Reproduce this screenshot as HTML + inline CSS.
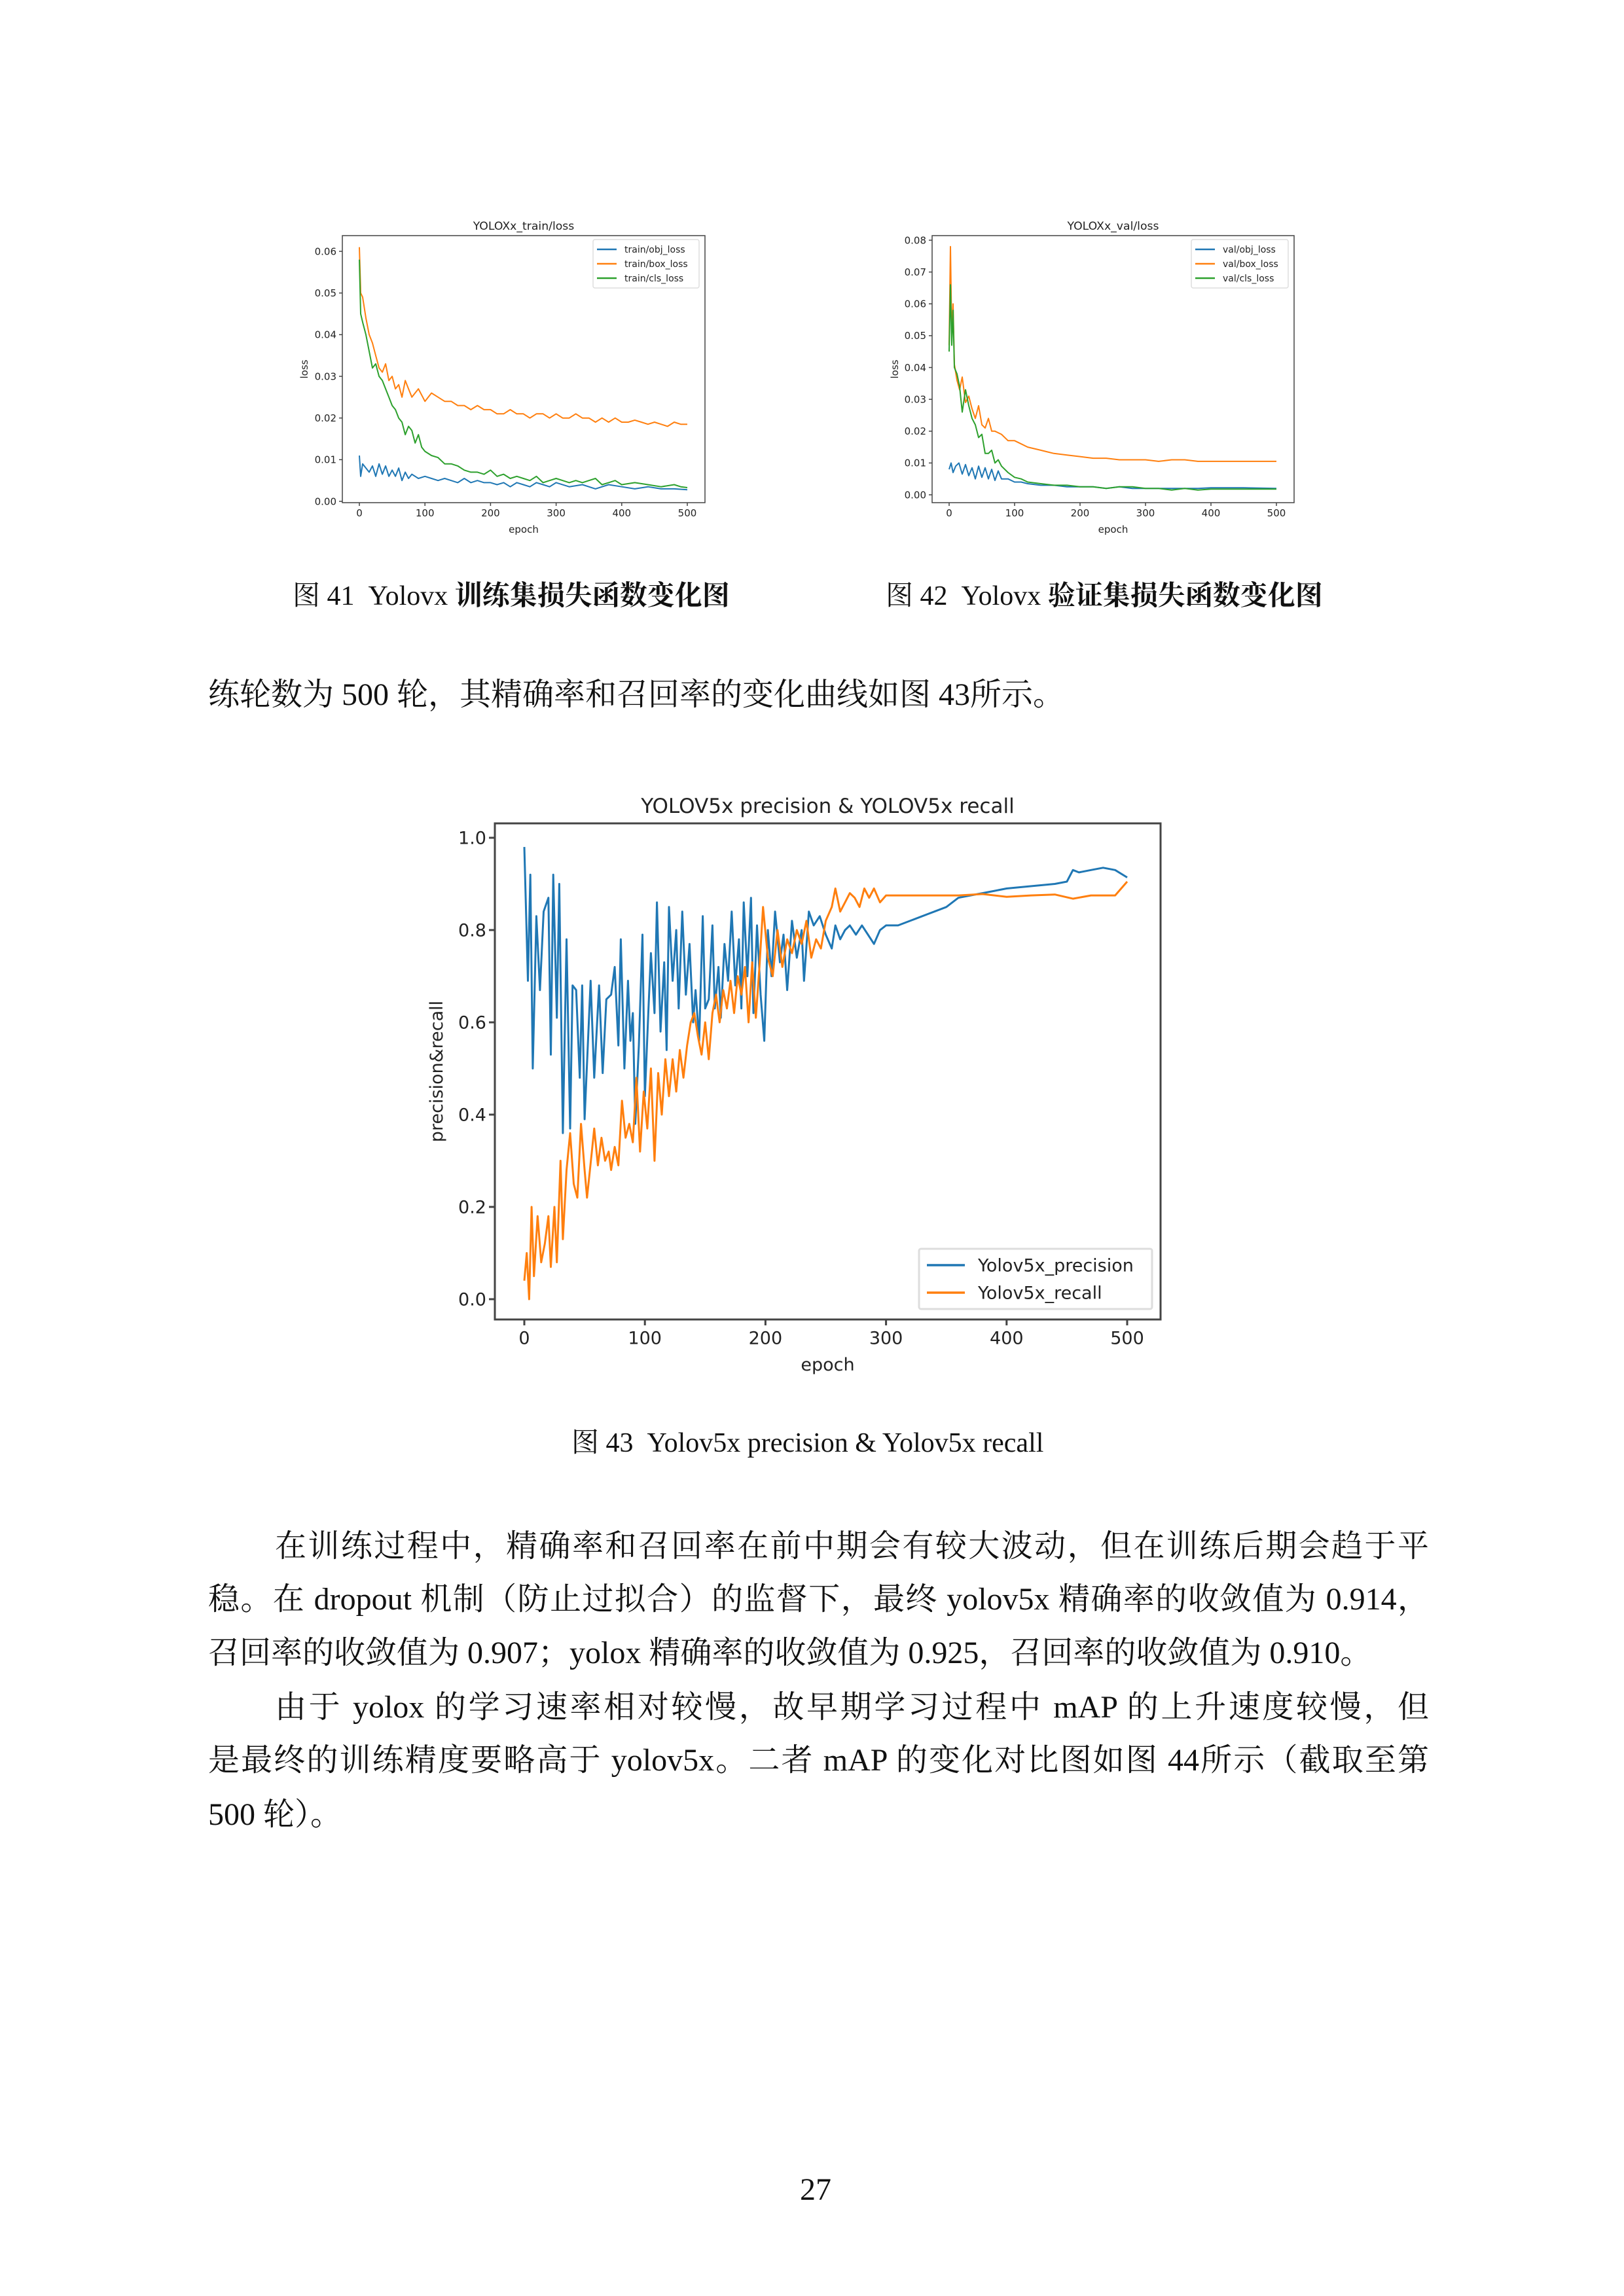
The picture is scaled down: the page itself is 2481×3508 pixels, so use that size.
<!DOCTYPE html>
<html><head><meta charset="utf-8">
<style>
html,body{margin:0;padding:0;background:#fff;}
body{width:2481px;height:3508px;position:relative;overflow:hidden;}
.t{position:absolute;font-family:"Liberation Serif","Noto Serif CJK SC",serif;font-size:48px;color:#111;white-space:nowrap;line-height:60px;}
.j{text-align:justify;text-align-last:justify;width:1865px;left:318px;}
svg text{font-family:"DejaVu Sans","Liberation Sans",sans-serif;fill:#222;}
</style></head><body>
<svg id="svg" width="2481" height="3508" style="position:absolute;left:0;top:0"></svg>

<div class="t" style="left:447px;top:881px;font-size:42px;">图 41&nbsp; Yolovx <b>训练集损失函数变化图</b></div>
<div class="t" style="left:1353px;top:881px;font-size:42px;">图 42&nbsp; Yolovx <b>验证集损失函数变化图</b></div>
<div class="t" style="left:318px;top:1032px;">练轮数为 500 轮，其精确率和召回率的变化曲线如图 43所示。</div>
<div class="t" style="left:873px;top:2175px;font-size:42px;">图 43&nbsp; Yolov5x precision &amp; Yolov5x recall</div>
<div class="t j" style="top:2333px;left:420px;width:1763px;">在训练过程中，精确率和召回率在前中期会有较大波动，但在训练后期会趋于平</div>
<div class="t j" style="top:2414px;">稳。在 dropout 机制（防止过拟合）的监督下，最终 yolov5x 精确率的收敛值为 0.914，</div>
<div class="t" style="top:2496px;left:318px;">召回率的收敛值为 0.907；yolox 精确率的收敛值为 0.925，召回率的收敛值为 0.910。</div>
<div class="t j" style="top:2579px;left:420px;width:1763px;">由于 yolox 的学习速率相对较慢，故早期学习过程中 mAP 的上升速度较慢，但</div>
<div class="t j" style="top:2660px;">是最终的训练精度要略高于 yolov5x。二者 mAP 的变化对比图如图 44所示（截取至第</div>
<div class="t" style="top:2743px;left:318px;">500 轮）。</div>
<div class="t" style="left:1222px;top:3316px;">27</div>

<script>
// ---- Data: train loss ----
const trEpBox=[0,2,5,10,15,20,25,30,35,40,45,50,55,60,65,70,75,80,90,100,110,120,130,140,150,160,170,180,190,200,210,220,230,240,250,260,270,280,290,300,310,320,330,340,350,360,370,380,390,400,410,420,430,440,450,460,470,480,490,500];
const trBox=[0.061,0.05,0.049,0.044,0.04,0.038,0.035,0.032,0.031,0.033,0.029,0.03,0.027,0.028,0.025,0.029,0.027,0.025,0.027,0.024,0.026,0.025,0.024,0.024,0.023,0.023,0.022,0.023,0.022,0.022,0.021,0.021,0.022,0.021,0.021,0.02,0.021,0.021,0.02,0.021,0.02,0.02,0.021,0.02,0.02,0.019,0.02,0.019,0.02,0.019,0.019,0.0195,0.019,0.0185,0.019,0.0185,0.018,0.019,0.0185,0.0185];
const trEpCls=[0,2,5,10,15,20,25,30,35,40,45,50,55,60,65,70,75,80,85,90,95,100,110,120,130,140,150,160,170,180,190,200,210,220,230,240,250,260,270,280,290,300,310,320,330,340,350,360,370,380,390,400,420,440,460,480,490,500];
const trCls=[0.058,0.045,0.043,0.04,0.036,0.032,0.033,0.03,0.029,0.027,0.025,0.023,0.022,0.02,0.019,0.016,0.018,0.017,0.014,0.016,0.013,0.012,0.011,0.0105,0.009,0.009,0.0085,0.0075,0.007,0.007,0.0065,0.0075,0.006,0.0065,0.0055,0.006,0.0055,0.005,0.006,0.0045,0.005,0.0055,0.005,0.0045,0.005,0.0045,0.005,0.0055,0.004,0.0045,0.005,0.004,0.0045,0.004,0.0035,0.004,0.0035,0.0033];
const trEpObj=[0,2,5,10,15,20,25,30,35,40,45,50,55,60,65,70,75,80,90,100,110,120,130,140,150,160,170,180,190,200,210,220,230,240,250,260,270,280,290,300,320,340,360,380,400,420,440,460,480,500];
const trObj=[0.011,0.006,0.009,0.008,0.007,0.0085,0.006,0.009,0.0065,0.0085,0.006,0.0075,0.006,0.008,0.005,0.007,0.0055,0.0065,0.0055,0.006,0.0055,0.005,0.0055,0.005,0.0045,0.0055,0.0045,0.005,0.0045,0.0045,0.004,0.0045,0.0035,0.0045,0.004,0.0035,0.0045,0.004,0.0035,0.0045,0.0035,0.004,0.003,0.004,0.0035,0.003,0.0035,0.003,0.003,0.0028];
// ---- Data: val loss ----
const vaEpBox=[0,2,4,6,8,12,16,20,25,30,35,40,45,50,55,60,65,70,80,90,100,110,120,130,140,150,160,180,200,220,240,260,280,300,320,340,360,380,400,450,500];
const vaBox=[0.047,0.078,0.05,0.06,0.041,0.036,0.033,0.037,0.029,0.031,0.027,0.024,0.028,0.022,0.021,0.024,0.02,0.02,0.019,0.017,0.017,0.016,0.015,0.0145,0.014,0.0135,0.013,0.0125,0.012,0.0115,0.0115,0.011,0.011,0.011,0.0105,0.011,0.011,0.0105,0.0105,0.0105,0.0105];
const vaEpCls=[0,2,4,6,8,12,16,20,25,30,35,40,45,50,55,60,65,70,75,80,90,100,110,120,140,160,180,200,220,240,260,280,300,320,340,360,380,400,450,500];
const vaCls=[0.045,0.066,0.047,0.058,0.04,0.038,0.034,0.026,0.033,0.028,0.024,0.022,0.018,0.019,0.013,0.013,0.014,0.01,0.011,0.009,0.007,0.0055,0.005,0.004,0.0035,0.003,0.003,0.0025,0.0025,0.002,0.0025,0.0025,0.002,0.002,0.0015,0.002,0.0015,0.0018,0.0018,0.0018];
const vaEpObj=[0,3,6,10,15,20,25,30,35,40,45,50,55,60,65,70,75,80,90,100,110,120,140,160,180,200,220,240,260,280,300,340,380,400,450,500];
const vaObj=[0.008,0.01,0.007,0.009,0.01,0.0065,0.0095,0.006,0.0085,0.005,0.009,0.0055,0.0085,0.005,0.008,0.0045,0.0075,0.005,0.005,0.004,0.004,0.0035,0.003,0.003,0.0025,0.0025,0.0025,0.002,0.0025,0.002,0.002,0.002,0.002,0.0022,0.0022,0.002];
// ---- Data: precision / recall ----
const prEp=[0,3,5,7,10,13,16,20,22,24,27,29,32,35,38,40,43,46,48,50,55,58,62,65,68,72,75,78,80,83,86,88,90,92,95,98,100,103,105,108,110,113,116,118,120,123,126,128,131,134,137,140,142,145,148,150,153,156,158,161,163,166,169,172,175,178,180,182,185,188,190,193,196,199,202,205,208,212,215,218,222,226,230,232,236,240,245,250,255,258,262,266,270,275,280,285,290,295,300,310,320,330,340,350,360,370,380,390,400,420,440,450,455,460,470,480,490,500];
const prVal=[0.98,0.69,0.92,0.5,0.83,0.67,0.84,0.87,0.53,0.92,0.61,0.9,0.36,0.78,0.37,0.68,0.67,0.48,0.68,0.39,0.69,0.48,0.68,0.49,0.65,0.66,0.72,0.55,0.78,0.5,0.69,0.56,0.62,0.38,0.55,0.79,0.44,0.63,0.75,0.62,0.86,0.58,0.73,0.54,0.85,0.69,0.8,0.63,0.84,0.66,0.77,0.6,0.67,0.56,0.83,0.63,0.65,0.81,0.63,0.72,0.61,0.77,0.69,0.84,0.68,0.78,0.63,0.86,0.7,0.87,0.62,0.81,0.66,0.56,0.8,0.7,0.84,0.73,0.79,0.67,0.82,0.74,0.8,0.69,0.84,0.81,0.83,0.79,0.76,0.81,0.78,0.8,0.81,0.79,0.81,0.79,0.77,0.8,0.81,0.81,0.82,0.83,0.84,0.85,0.87,0.875,0.88,0.885,0.89,0.895,0.9,0.905,0.93,0.925,0.93,0.935,0.93,0.914];
const rcEp=[0,2,4,6,8,11,14,17,20,22,25,27,30,32,35,38,41,44,47,50,52,56,58,61,64,67,70,72,75,78,81,84,87,90,93,96,99,102,105,108,111,114,117,120,123,126,129,132,135,138,141,144,147,150,153,156,159,162,165,168,171,174,177,180,183,186,189,192,195,198,202,206,210,214,218,222,226,230,234,238,242,246,250,255,258,262,266,270,274,278,282,286,290,295,300,320,340,360,380,400,420,440,455,470,490,500];
const rcVal=[0.04,0.1,0.0,0.2,0.05,0.18,0.08,0.12,0.18,0.07,0.2,0.08,0.3,0.13,0.28,0.36,0.25,0.22,0.38,0.28,0.22,0.32,0.37,0.29,0.35,0.3,0.32,0.28,0.33,0.29,0.43,0.35,0.38,0.34,0.48,0.32,0.45,0.37,0.5,0.3,0.49,0.4,0.52,0.44,0.52,0.45,0.54,0.48,0.55,0.6,0.62,0.57,0.53,0.6,0.52,0.62,0.66,0.6,0.67,0.63,0.69,0.62,0.7,0.66,0.72,0.6,0.73,0.61,0.72,0.85,0.74,0.7,0.8,0.72,0.78,0.75,0.8,0.77,0.82,0.74,0.78,0.76,0.82,0.85,0.89,0.84,0.86,0.88,0.87,0.85,0.89,0.87,0.89,0.86,0.875,0.875,0.875,0.875,0.878,0.872,0.875,0.877,0.868,0.875,0.875,0.905];

const yTicksTrain=["0.00","0.01","0.02","0.03","0.04","0.05","0.06"];
const yTicksVal=["0.00","0.01","0.02","0.03","0.04","0.05","0.06","0.07","0.08"];
const yTicksMain=["0.0","0.2","0.4","0.6","0.8","1.0"];
const xTicks=["0","100","200","300","400","500"];

const NS="http://www.w3.org/2000/svg";
const svg=document.getElementById('svg');
function mk(tag,attrs,parent){const e=document.createElementNS(NS,tag);for(const k in attrs)e.setAttribute(k,attrs[k]);(parent||svg).appendChild(e);return e;}

function chart(o){
  const g=mk('g',{});
  
  
  const sx=v=>o.x0+(v-0)/(500)*(o.x1-o.x0);
  const sy=v=>o.y0+(v-o.ymin)/(o.ymax-o.ymin)*(o.y1-o.y0);
  // series
  o.series.forEach(s=>{
    let d='';s.x.forEach((xv,i)=>{d+=(i?'L':'M')+sx(xv).toFixed(1)+','+sy(s.y[i]).toFixed(1);});
    const p=mk('path',{d:d,fill:'none',stroke:s.color,'stroke-width':o.lw,'stroke-linejoin':'round'},g);
    
    
  });
  const fr=mk('rect',{x:o.bx0,y:o.by0,width:o.bx1-o.bx0,height:o.by1-o.by0,fill:'none',stroke:'#444','stroke-width':o.fw},g);
  
  
  // y ticks
  o.yt.forEach(t=>{
    const y=sy(parseFloat(t));
    mk('line',{x1:o.bx0-o.tl,x2:o.bx0,y1:y,y2:y,stroke:'#444','stroke-width':o.fw},g);
    const tx=mk('text',{x:o.bx0-o.tl-4,y:y+o.fs*0.35,'text-anchor':'end','font-size':o.fs},g);
    tx.textContent=t;
    
    
  });
  xTicks.forEach(t=>{
    const x=sx(parseFloat(t));
    mk('line',{x1:x,x2:x,y1:o.by1,y2:o.by1+o.tl,stroke:'#444','stroke-width':o.fw},g);
    const tx=mk('text',{x:x,y:o.by1+o.tl+o.fs*1.05,'text-anchor':'middle','font-size':o.fs},g);
    tx.textContent=t;
    
    
  });
  const tt=mk('text',{x:(o.bx0+o.bx1)/2,y:o.by0-o.fs*0.6,'text-anchor':'middle','font-size':o.fs*1.15},g);
  tt.textContent=o.title;
  
  
  const xl=mk('text',{x:(o.bx0+o.bx1)/2,y:o.xly,'text-anchor':'middle','font-size':o.fs},g);
  xl.textContent='epoch';
  
  
  const yl=mk('text',{x:o.ylx,y:(o.by0+o.by1)/2,'text-anchor':'middle','font-size':o.fs,transform:'rotate(-90 '+o.ylx+' '+(o.by0+o.by1)/2+')'},g);
  yl.textContent=o.ylabel;
  
  
  // legend
  const L=o.leg;
  const lg=mk('g',{},g);
  
  
  mk('rect',{x:L.x0,y:L.y0,width:L.x1-L.x0,height:L.y1-L.y0,fill:'#fff',stroke:'#ddd','stroke-width':o.fw,rx:3},lg);
  o.series.forEach((s,i)=>{
    const yy=L.y0+L.pad+L.step*(i+0.5);
    mk('line',{x1:L.x0+L.lx0,x2:L.x0+L.lx1,y1:yy,y2:yy,stroke:s.color,'stroke-width':o.lw*1.2},lg);
    const tx=mk('text',{x:L.x0+L.tx,y:yy+o.lfs*0.35,'font-size':o.lfs},lg);
    tx.textContent=s.name;
    
    
  });
}
const B='#1f77b4',O='#ff7f0e',G='#2ca02c';
chart({name:'train-loss-chart',title:'YOLOXx_train/loss',ylabel:'loss',bx0:523,bx1:1077,by0:360,by1:768,x0:549,x1:1050,y0:766,y1:384,ymin:0,ymax:0.06,
  yt:yTicksTrain,fs:15,lfs:14,lw:2,fw:1.5,tl:5,xly:814,ylx:470,
  leg:{x0:906,x1:1068,y0:366,y1:440,pad:4,step:22,lx0:6,lx1:36,tx:48},
  series:[{name:'train/obj_loss',color:B,x:trEpObj,y:trObj},{name:'train/box_loss',color:O,x:trEpBox,y:trBox},{name:'train/cls_loss',color:G,x:trEpCls,y:trCls}]});
chart({name:'val-loss-chart',title:'YOLOXx_val/loss',ylabel:'loss',bx0:1424,bx1:1977,by0:360,by1:768,x0:1450,x1:1950,y0:756,y1:367,ymin:0,ymax:0.08,
  yt:yTicksVal,fs:15,lfs:14,lw:2,fw:1.5,tl:5,xly:814,ylx:1372,
  leg:{x0:1820,x1:1968,y0:366,y1:440,pad:4,step:22,lx0:6,lx1:36,tx:48},
  series:[{name:'val/obj_loss',color:B,x:vaEpObj,y:vaObj},{name:'val/box_loss',color:O,x:vaEpBox,y:vaBox},{name:'val/cls_loss',color:G,x:vaEpCls,y:vaCls}]});
chart({name:'precision-recall-chart',title:'YOLOV5x precision & YOLOV5x recall',ylabel:'precision&recall',bx0:756,bx1:1773,by0:1258,by1:2016,x0:801,x1:1722,y0:1985,y1:1280,ymin:0,ymax:1.0,
  yt:yTicksMain,fs:27,lfs:27,lw:3,fw:3,tl:9,xly:2094,ylx:676,
  leg:{x0:1404,x1:1760,y0:1908,y1:2000,pad:4,step:42,lx0:12,lx1:70,tx:90},
  series:[{name:'Yolov5x_precision',color:B,x:prEp,y:prVal},{name:'Yolov5x_recall',color:O,x:rcEp,y:rcVal}]});
</script>
</body></html>
